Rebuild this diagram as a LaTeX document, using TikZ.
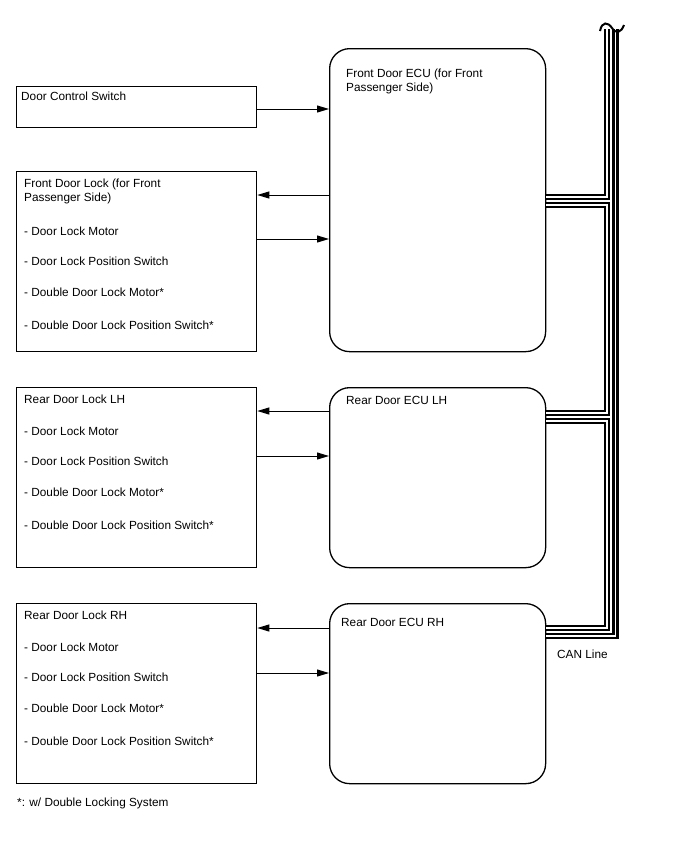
\documentclass[tikz,border=0pt]{standalone}
\usepackage{fontspec}
\setmainfont{Liberation Sans}
\usetikzlibrary{arrows.meta,positioning}
\tikzset{
  unitbox/.style={
    draw=black,
    line width=1.3pt,
    minimum width=240pt,
    inner sep=0pt,
    anchor=north west
  },
  ecubox/.style={
    draw=black,
    line width=1.3pt,
    rounded corners=20pt,
    minimum width=216pt,
    minimum height=180pt,
    inner sep=0pt,
    anchor=north west
  },
  boxtext/.style={
    inner sep=0pt,
    align=left,
    font=\fontsize{11.8}{14}\selectfont
  },
  sigarrow/.style={
    -{Triangle[length=12pt,width=7pt]},
    line width=1pt
  },
  canwire/.style={
    line width=2.6pt,
    double=white,
    double distance=1.4pt
  }
}

\begin{document}
\begin{tikzpicture}[x=1pt, y=-1pt]
  \useasboundingbox (0,0) rectangle (688,852);

  % switch and door lock boxes
  \node[unitbox, minimum height=41pt] (dcs) at (16,86) {};
  \node[unitbox, minimum height=180pt] (fdl) at (16,171) {};
  \node[unitbox, minimum height=180pt] (rll) at (16,387) {};
  \node[unitbox, minimum height=180pt] (rrl) at (16,603) {};

  % ECUs
  \node[ecubox, minimum height=303pt] (fecu) at (329,48) {};
  \node[ecubox] (lecu) at (329,387) {};
  \node[ecubox] (recu) at (329,603) {};

  % texts
  \node[boxtext, below right=5.5pt and 5pt of dcs.north west] (dcstxt) {Door Control Switch};
  \node[boxtext, below right=7.5pt and 8pt of fdl.north west] (fdltxt) {Front Door Lock (for Front\\Passenger Side)\\[20pt]- Door Lock Motor\\[16pt]- Door Lock Position Switch\\[17pt]- Double Door Lock Motor*\\[19pt]- Double Door Lock Position Switch*};
  \node[boxtext, below right=7.5pt and 8pt of rll.north west] (rlltxt) {Rear Door Lock LH\\[18pt]- Door Lock Motor\\[16pt]- Door Lock Position Switch\\[17pt]- Double Door Lock Motor*\\[19pt]- Double Door Lock Position Switch*};
  \node[boxtext, below right=7.5pt and 8pt of rrl.north west] (rrltxt) {Rear Door Lock RH\\[18pt]- Door Lock Motor\\[16pt]- Door Lock Position Switch\\[17pt]- Double Door Lock Motor*\\[19pt]- Double Door Lock Position Switch*};
  \node[boxtext, below right=20.5pt and 17pt of fecu.north west] (fecutxt) {Front Door ECU (for Front\\Passenger Side)};
  \node[boxtext, below right=9.5pt and 17pt of lecu.north west] (lecutxt) {Rear Door ECU LH};
  \node[boxtext, below right=15.5pt and 12pt of recu.north west] (recutxt) {Rear Door ECU RH};

  % signal taps
  \coordinate (dcsout) at ([yshift=-23pt]dcs.north east);
  \coordinate (fdlin) at ([yshift=-24pt]fdl.north east);
  \coordinate (fdlout) at ([yshift=-68pt]fdl.north east);
  \coordinate (rllin) at ([yshift=-24pt]rll.north east);
  \coordinate (rllout) at ([yshift=-69pt]rll.north east);
  \coordinate (rrlin) at ([yshift=-25pt]rrl.north east);
  \coordinate (rrlout) at ([yshift=-70pt]rrl.north east);

  \draw[sigarrow] (dcsout) -- (dcsout -| fecu.west);
  \draw[sigarrow] (fdlin -| fecu.west) -- (fdlin);
  \draw[sigarrow] (fdlout) -- (fdlout -| fecu.west);
  \draw[sigarrow] (rllin -| lecu.west) -- (rllin);
  \draw[sigarrow] (rllout) -- (rllout -| lecu.west);
  \draw[sigarrow] (rrlin -| recu.west) -- (rrlin);
  \draw[sigarrow] (rrlout) -- (rrlout -| recu.west);

  % CAN line
  \coordinate (canA) at (607,29);
  \coordinate (canD) at (615.5,29);
  \coordinate (fecuA) at ([yshift=-149pt]fecu.north east);
  \coordinate (fecuB) at ([yshift=-157pt]fecu.north east);
  \coordinate (lecuB) at ([yshift=-26pt]lecu.north east);
  \coordinate (lecuC) at ([yshift=-34pt]lecu.north east);
  \coordinate (recuC) at ([yshift=-25pt]recu.north east);
  \coordinate (recuD) at ([yshift=-33pt]recu.north east);

  \draw[canwire] (fecuA) -| (canA);
  \draw[canwire] (fecuB) -| (canA |- lecuB) -- (lecuB);
  \draw[canwire] (lecuC) -| (canA |- recuC) -- (recuC);
  \draw[canwire] (recuD) -| (canD);
  \draw[line width=2pt] (600,31) .. controls (602,21) and (608,22) .. (612,28)
    .. controls (616,34) and (621,33) .. (624,25);

  \node[boxtext, anchor=west] (canlbl) at (557,654) {CAN Line};
  \node[boxtext, anchor=west] (note) at (17,803) {*: w/ Double Locking System};
\end{tikzpicture}
\end{document}
